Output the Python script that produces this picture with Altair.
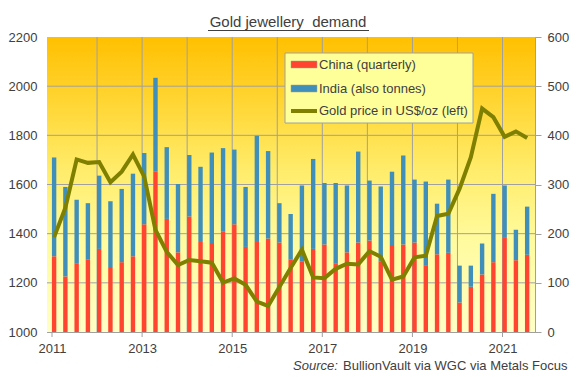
import altair as alt
import pandas as pd

# ---- data (quarterly, 2011 Q1 .. 2021 Q3) ----
china = [154, 113, 140, 148, 169, 132, 142, 154, 219, 327, 230, 162, 235, 185, 181, 205,
         219, 173, 185, 190, 182, 148, 144, 169, 178, 140, 162, 182, 186, 144, 177, 178,
         182, 136, 158, 161, 60, 92, 117, 142, 193, 146, 157]
india = [201, 182, 129, 114, 149, 134, 149, 168, 145, 190, 146, 139, 125, 151, 184, 169,
         152, 122, 214, 178, 80, 92, 154, 183, 125, 163, 136, 185, 122, 152, 149, 181,
         128, 170, 103, 149, 75, 43, 63, 139, 105, 62, 98]
gold = [1386, 1506, 1702, 1688, 1691, 1609, 1652, 1722, 1632, 1415, 1326, 1272, 1293, 1288,
        1282, 1201, 1218, 1192, 1124, 1106, 1183, 1260, 1335, 1222, 1219, 1257, 1278, 1275,
        1329, 1306, 1213, 1226, 1304, 1310, 1472, 1481, 1583, 1711, 1909, 1874, 1794, 1816, 1789]
start_year = 2011
year_ticks = [2011, 2013, 2015, 2017, 2019, 2021]
grid_years = [2012, 2013, 2014, 2015, 2016, 2017, 2018, 2019, 2020, 2021]
price_ticks = [1000, 1200, 1400, 1600, 1800, 2000, 2200]
price_grid = [1200, 1400, 1600, 1800, 2000]
tonne_ticks = [0, 100, 200, 300, 400, 500, 600]
legend_labels = ["China (quarterly)", "India (also tonnes)", "Gold price in US$/oz (left)"]
title_text = "Gold jewellery\u00a0 demand"
source_label = "Source:"
source_text = "BullionVault via WGC via Metals Focus"

W, H = 488, 295
FONT = "Liberation Sans"
TXT = "#404040"
GRID = "#A0A0A0"
RED = "#FF4430"
BLUE = "#408FBA"
OLIVE = "#7F7F00"

n = len(china)
t = [start_year + i * 0.25 + 0.047 for i in range(n)]
df = pd.DataFrame({"t": t, "china": china, "india": india, "gold": gold})
df["total"] = df["china"] + df["india"]
bars_df = pd.concat([
    pd.DataFrame({"t": df["t"], "lo": 0, "hi": df["china"], "s": "China"}),
    pd.DataFrame({"t": df["t"], "lo": df["china"], "hi": df["total"], "s": "India"}),
])

x_scale = alt.Scale(domain=[2011, 2021.61], nice=False, zero=False)
x_axis = alt.Axis(values=year_ticks, format="d", grid=False, ticks=False, domainColor=GRID,
                  labelFont=FONT, labelFontSize=13, labelColor=TXT, labelPadding=10,
                  labelFlush=False, title=None)
price_scale = alt.Scale(domain=[1000, 2200], nice=False, zero=False)
price_axis = alt.Axis(orient="left", values=price_ticks, format="d", grid=False, ticks=False,
                      domainColor=GRID, labelFont=FONT, labelFontSize=13, labelColor=TXT,
                      labelPadding=10, title=None)
ton_scale = alt.Scale(domain=[0, 600], nice=False, zero=True)
ton_axis = alt.Axis(orient="right", values=tonne_ticks, format="d", grid=False, tickSize=6,
                    tickColor=GRID, domainColor=GRID, labelFont=FONT, labelFontSize=13,
                    labelColor=TXT, labelPadding=6, title=None)

one = pd.DataFrame({"a": [0]})

bg = alt.Chart(one).mark_rect(
    color=alt.LinearGradient(
        gradient="linear", x1=0, x2=0, y1=0, y2=1,
        stops=[alt.GradientStop(offset=0, color="#FFC000"),
               alt.GradientStop(offset=0.45, color="#FFEC6A"),
               alt.GradientStop(offset=0.7, color="#FFFBA0"),
               alt.GradientStop(offset=1, color="#FFFFC6")])
).encode(x=alt.value(0), x2=alt.value(W), y=alt.value(0), y2=alt.value(H))

vgrid = alt.Chart(pd.DataFrame({"yr": grid_years})).mark_rule(color=GRID, strokeWidth=1).encode(
    x=alt.X("yr:Q", scale=x_scale, axis=x_axis), y=alt.value(0), y2=alt.value(H))

hgrid = alt.Chart(pd.DataFrame({"p": price_grid})).mark_rule(color=GRID, strokeWidth=1).encode(
    y=alt.Y("p:Q", scale=price_scale, axis=None), x=alt.value(0), x2=alt.value(W))

xticks = alt.Chart(pd.DataFrame({"yr": year_ticks})).mark_rule(color=GRID, strokeWidth=1).encode(
    x=alt.X("yr:Q", scale=x_scale, axis=x_axis), y=alt.value(H), y2=alt.value(H + 5))

bars = alt.Chart(bars_df).mark_bar(size=4.4).encode(
    x=alt.X("t:Q", scale=x_scale, axis=x_axis),
    y=alt.Y("hi:Q", scale=ton_scale, axis=ton_axis),
    y2="lo:Q",
    color=alt.Color("s:N", scale=alt.Scale(domain=["China", "India"], range=[RED, BLUE]), legend=None),
)

line = alt.Chart(df).mark_line(color=OLIVE, strokeWidth=4).encode(
    x=alt.X("t:Q", scale=x_scale, axis=x_axis),
    y=alt.Y("gold:Q", scale=price_scale, axis=price_axis),
)

# legend box (manual)
lx0, ly0 = 238, 16
leg_box = alt.Chart(one).mark_rect(fill="#FFFF99", stroke=GRID, strokeWidth=1).encode(
    x=alt.value(lx0), x2=alt.value(lx0 + 188), y=alt.value(ly0), y2=alt.value(ly0 + 70))
sw_red = alt.Chart(one).mark_rect(fill=RED, stroke=GRID, strokeWidth=0.5).encode(
    x=alt.value(lx0 + 6), x2=alt.value(lx0 + 32), y=alt.value(ly0 + 8), y2=alt.value(ly0 + 15))
sw_blue = alt.Chart(one).mark_rect(fill=BLUE, stroke=GRID, strokeWidth=0.5).encode(
    x=alt.value(lx0 + 6), x2=alt.value(lx0 + 32), y=alt.value(ly0 + 32), y2=alt.value(ly0 + 39))
sw_line = alt.Chart(one).mark_rule(color=OLIVE, strokeWidth=4).encode(
    x=alt.value(lx0 + 6), x2=alt.value(lx0 + 32), y=alt.value(ly0 + 58))
leg_texts = [
    alt.Chart(one).mark_text(text=lab, font=FONT, fontSize=13, color=TXT, align="left",
                             baseline="middle").encode(x=alt.value(lx0 + 34), y=alt.value(ly0 + yy))
    for lab, yy in zip(legend_labels, [11.5, 35.5, 58])
]

title = alt.Chart(one).mark_text(text=title_text, font=FONT, fontSize=15, color=TXT,
                                 align="center", baseline="middle").encode(
    x=alt.value(241), y=alt.value(-15))
underline = alt.Chart(one).mark_rule(color=TXT, strokeWidth=1).encode(
    x=alt.value(161), x2=alt.value(322), y=alt.value(-6.5))

src1 = alt.Chart(one).mark_text(text=source_label, font=FONT, fontSize=13, fontStyle="italic",
                                color=TXT, align="left", baseline="middle").encode(
    x=alt.value(246), y=alt.value(329))
src2 = alt.Chart(one).mark_text(text=source_text, font=FONT, fontSize=13, color=TXT,
                                align="left", baseline="middle").encode(
    x=alt.value(296), y=alt.value(329))

chart = alt.layer(
    bg, vgrid, hgrid, xticks, bars, line, leg_box, sw_red, sw_blue, sw_line, *leg_texts,
    title, underline, src1, src2
).resolve_scale(y="independent").properties(
    width=W, height=H,
    padding={"left": 47, "top": 37, "right": 41, "bottom": 45},
    autosize=alt.AutoSizeParams(type="none"),
    background="white",
).configure(font=FONT).configure_view(stroke=GRID)

chart.save("out.html", embed_options={"renderer": "svg", "actions": False})
